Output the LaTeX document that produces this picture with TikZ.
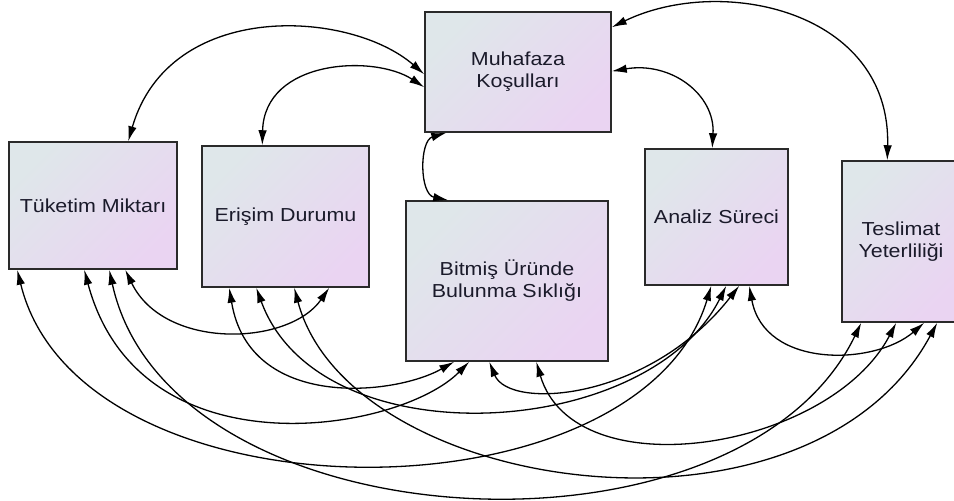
\documentclass[tikz,border=0pt]{standalone}
\usepackage{fontspec}
\setmainfont{Liberation Sans}[FakeStretch=1.14]
\usetikzlibrary{arrows.meta}
\definecolor{boxtl}{HTML}{DFE7EA}
\definecolor{boxbr}{HTML}{EAD4F2}
\definecolor{boxline}{HTML}{2A2A2A}
\definecolor{labelink}{HTML}{1A1A2A}

\begin{document}
\begin{tikzpicture}[x=1pt,y=1pt,
    factor/.style={draw=boxline, line width=1.5pt, top color=boxtl, bottom color=boxbr,
        shading angle=45, align=center, inner sep=0pt, text=labelink,
        font=\fontsize{18.8pt}{22pt}\selectfont},
    link/.style={line width=1.3pt, {Latex[length=15pt,width=8.5pt]}-{Latex[length=15pt,width=8.5pt]}}]
    \useasboundingbox (0,0) rectangle (954,501);

    \node[factor, minimum width=186pt, minimum height=120pt] (muh) at (518,429) {Muhafaza\\Koşulları};
    \node[factor, minimum width=168pt, minimum height=127pt] (tuk) at (93,295.5) {Tüketim Miktarı};
    \node[factor, minimum width=167pt, minimum height=141pt] (eri) at (285.5,284.5) {Erişim Durumu};
    \node[factor, minimum width=202pt, minimum height=160pt] (bit) at (507,220) {Bitmiş Üründe\\Bulunma Sıklığı};
    \node[factor, minimum width=143pt, minimum height=136pt] (ana) at (716.5,284) {Analiz Süreci};
    \node[factor, minimum width=118pt, minimum height=161pt] (tes) at (901,259.5) {Teslimat\\Yeterliliği};

    \draw[link] ([xshift=120pt]tuk.north west) .. controls +(41,142) and +(-75,65) .. ([yshift=-63pt]muh.north west);
    \draw[link] ([xshift=61pt]eri.north west) .. controls +(2,86) and +(-50,33) .. ([yshift=-76pt]muh.north west);
    \draw[link] ([xshift=22pt]muh.south west) .. controls +(-27,-8) and +(-29,6) .. ([xshift=43pt]bit.north west);
    \draw[link] ([yshift=-60pt]muh.north east) .. controls +(59,10) and +(3,54) .. ([xshift=68pt]ana.north west);
    \draw[link] ([yshift=-16pt]muh.north east) .. controls +(109,53) and +(4,150) .. ([xshift=46pt]tes.north west);

    \draw[link] ([xshift=117pt]tuk.south west) .. controls +(39,-81) and +(-40,-58) .. ([xshift=128pt]eri.south west);
    \draw[link] ([xshift=28pt]eri.south west) .. controls +(20,-123) and +(-60,-34) .. ([xshift=49pt]bit.south west);
    \draw[link] ([xshift=76pt]tuk.south west) .. controls +(55,-206) and +(-70,-71) .. ([xshift=64pt]bit.south west);
    \draw[link] ([xshift=9pt]tuk.south west) .. controls +(62,-256) and +(-72,-240) .. ([xshift=67pt]ana.south west);
    \draw[link] ([xshift=55pt]eri.south west) .. controls +(63,-173) and +(-77,-155) .. ([xshift=82pt]ana.south west);
    \draw[link] ([xshift=84pt]bit.south west) .. controls +(20,-49) and +(-90,-115) .. ([xshift=95pt]ana.south west);
    \draw[link] ([xshift=131pt]bit.south west) .. controls +(38,-129) and +(-67,-128) .. ([xshift=55pt]tes.south west);
    \draw[link] ([xshift=105pt]ana.south west) .. controls +(15,-83) and +(-50,-43) .. ([xshift=83pt]tes.south west);
    \draw[link] ([xshift=93pt]eri.south west) .. controls +(55,-208) and +(-128,-238) .. ([xshift=96pt]tes.south west);
    \draw[link] ([xshift=101pt]tuk.south west) .. controls +(60,-276) and +(-122,-253) .. ([xshift=20pt]tes.south west);
\end{tikzpicture}
\end{document}
